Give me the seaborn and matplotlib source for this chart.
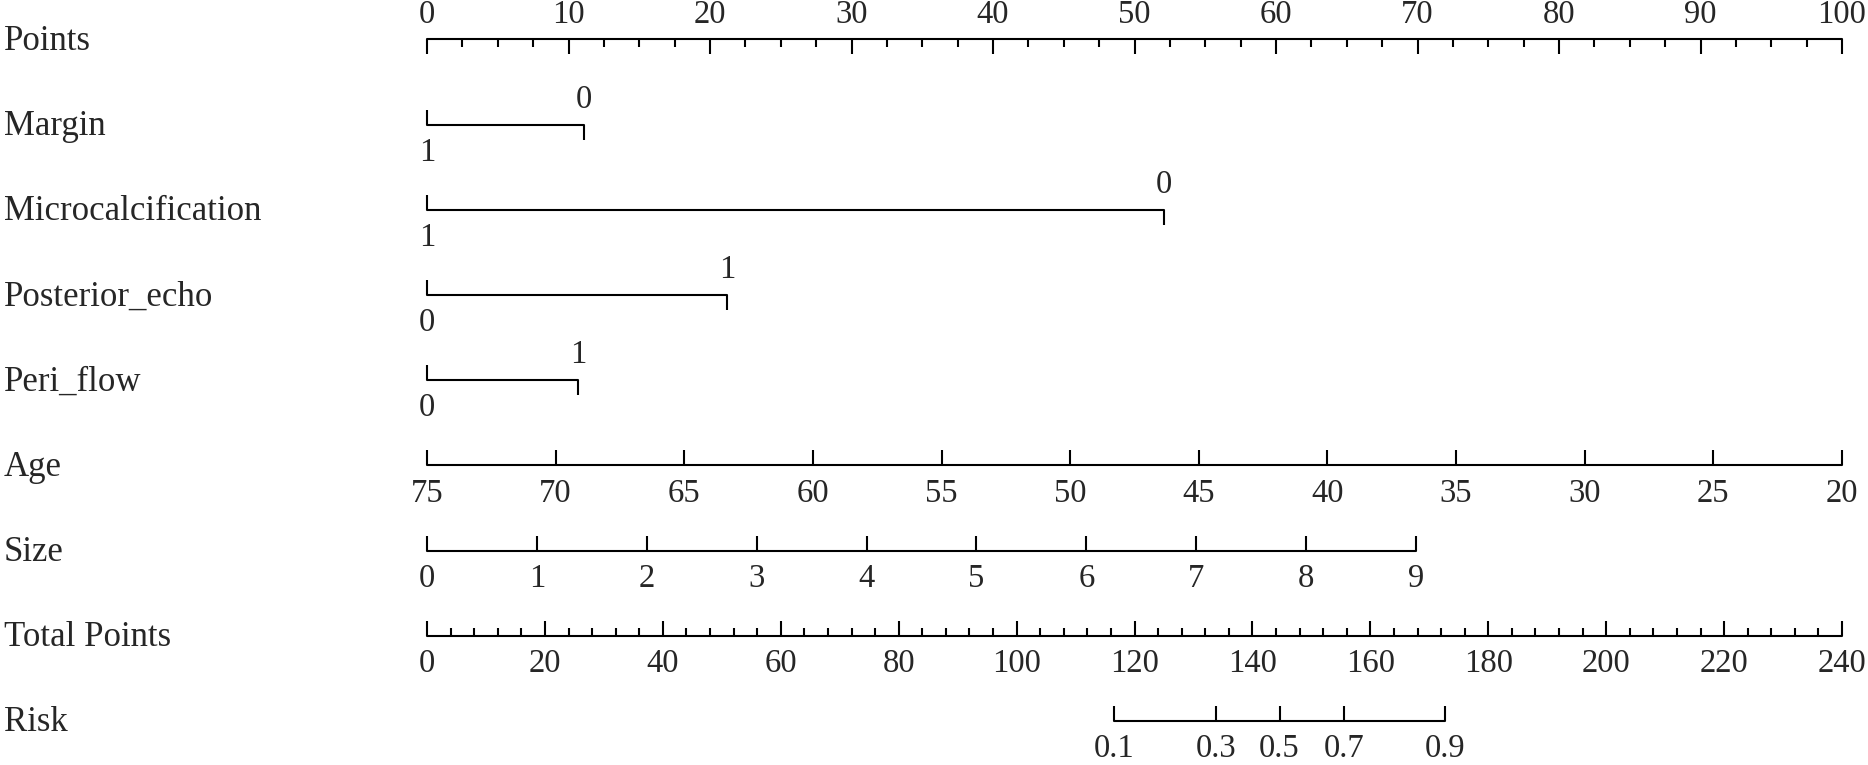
import numpy as np
import pandas as pd
import matplotlib
matplotlib.use('Agg')
import matplotlib.pyplot as plt
import matplotlib.transforms as mtransforms
import seaborn as sns

# Nomogram values (all positions are in "Points", 0-100)
points_ticks = list(range(0, 101, 10))

margin_labels = ['1', '0']
margin_points = [0, 11.1]

micro_labels = ['1', '0']
micro_points = [0, 52.1]

posterior_labels = ['0', '1']
posterior_points = [0, 21.2]

peri_labels = ['0', '1']
peri_points = [0, 10.7]

age_ticks = [75, 70, 65, 60, 55, 50, 45, 40, 35, 30, 25, 20]
age_range = [75, 20]          # age 75 -> 0 points, age 20 -> 100 points

size_ticks = [0, 1, 2, 3, 4, 5, 6, 7, 8, 9]
size_range_points = [0, 69.9]  # size 0 -> 0 points, size 9 -> 69.9 points

total_ticks = list(range(0, 241, 20))
total_max = 240               # 240 total points spans the full 0-100 width

risk_labels = ['0.1', '0.3', '0.5', '0.7', '0.9']
risk_total_points = [116.6, 133.8, 144.6, 155.5, 172.6]

row_names = ['Points', 'Margin', 'Microcalcification', 'Posterior_echo', 'Peri_flow',
             'Age', 'Size', 'Total Points', 'Risk']

# Estilo
sns.set_theme(style='white')
plt.rcParams['font.family'] = ['Liberation Serif', 'DejaVu Serif']

W, H = 1868, 765
fig = plt.figure(figsize=(W / 100, H / 100), dpi=100)
ax = fig.add_axes([0, 0, 1, 1])

# pixel layout
x0_px, x100_px = 427, 1842
px_per_pt = (x100_px - x0_px) / 100
row_y = {name: 39.3 + 85.2 * i for i, name in enumerate(row_names)}
tick_major = 15
tick_minor = 7.5
fs = 23.5
lw = 1.5


def total_to_points(t):
    return np.asarray(t, dtype=float) * 100 / total_max


# positions of each scale in points
age_pos = np.interp(age_ticks, age_range[::-1], [100, 0])
size_pos = np.interp(size_ticks, [size_ticks[0], size_ticks[-1]], size_range_points)
total_pos = total_to_points(total_ticks)
risk_pos = total_to_points(risk_total_points)

# horizontal lines of every scale, drawn with seaborn
segments = {
    'Points': [0, 100],
    'Margin': [min(margin_points), max(margin_points)],
    'Microcalcification': [min(micro_points), max(micro_points)],
    'Posterior_echo': [min(posterior_points), max(posterior_points)],
    'Peri_flow': [min(peri_points), max(peri_points)],
    'Age': [age_pos.min(), age_pos.max()],
    'Size': [size_pos.min(), size_pos.max()],
    'Total Points': [total_pos.min(), total_pos.max()],
    'Risk': [risk_pos.min(), risk_pos.max()],
}
seg = pd.DataFrame([
    {'row': name, 'x': x, 'y': row_y[name]}
    for name, xs in segments.items() for x in xs
])
sns.lineplot(data=seg, x='x', y='y', units='row', estimator=None, sort=False,
             color='black', linewidth=lw, legend=False, ax=ax)


def scale(name, pos, labels, up=True, below=True, length=tick_major):
    y = row_y[name]
    y2 = y - length if up else y + length
    ax.vlines(pos, y, y2, color='black', lw=lw)
    ty = y + 28 if below else y - 25
    for p, lab in zip(pos, labels):
        ax.text(p, ty, lab, ha='center', va='center', fontsize=fs)


# Points axis: ticks down, labels above
minor_pts = [v for v in np.arange(0, 100.1, 2.5) if v % 10 != 0]
ax.vlines(minor_pts, row_y['Points'], row_y['Points'] + tick_minor, color='black', lw=lw)
scale('Points', points_ticks, [str(v) for v in points_ticks], up=False, below=False)

# binary predictors: first level below the left end, second above the right end
for name, pts, labs in [('Margin', margin_points, margin_labels),
                        ('Microcalcification', micro_points, micro_labels),
                        ('Posterior_echo', posterior_points, posterior_labels),
                        ('Peri_flow', peri_points, peri_labels)]:
    y = row_y[name]
    ax.vlines(pts[0], y, y - tick_major, color='black', lw=lw)
    ax.vlines(pts[1], y, y + tick_major, color='black', lw=lw)
    ax.text(pts[0], y + 28, labs[0], ha='center', va='center', fontsize=fs)
    ax.text(pts[1], y - 25, labs[1], ha='center', va='center', fontsize=fs)

scale('Age', age_pos, [str(v) for v in age_ticks])
scale('Size', size_pos, [str(v) for v in size_ticks])

minor_total = [v for v in range(0, total_max + 1, 4) if v % 20 != 0]
ax.vlines(total_to_points(minor_total), row_y['Total Points'],
          row_y['Total Points'] - tick_minor, color='black', lw=lw)
scale('Total Points', total_pos, [str(v) for v in total_ticks])
scale('Risk', risk_pos, risk_labels)

# row names on the left
trans = mtransforms.blended_transform_factory(ax.transAxes, ax.transData)
for name in row_names:
    ax.text(4 / W, row_y[name] + 2, name, transform=trans, ha='left', va='center', fontsize=25)

ax.set_xlim(-x0_px / px_per_pt, (W - x0_px) / px_per_pt)
ax.set_ylim(H, 0)
ax.axis('off')

plt.savefig('out.png', dpi=100)
